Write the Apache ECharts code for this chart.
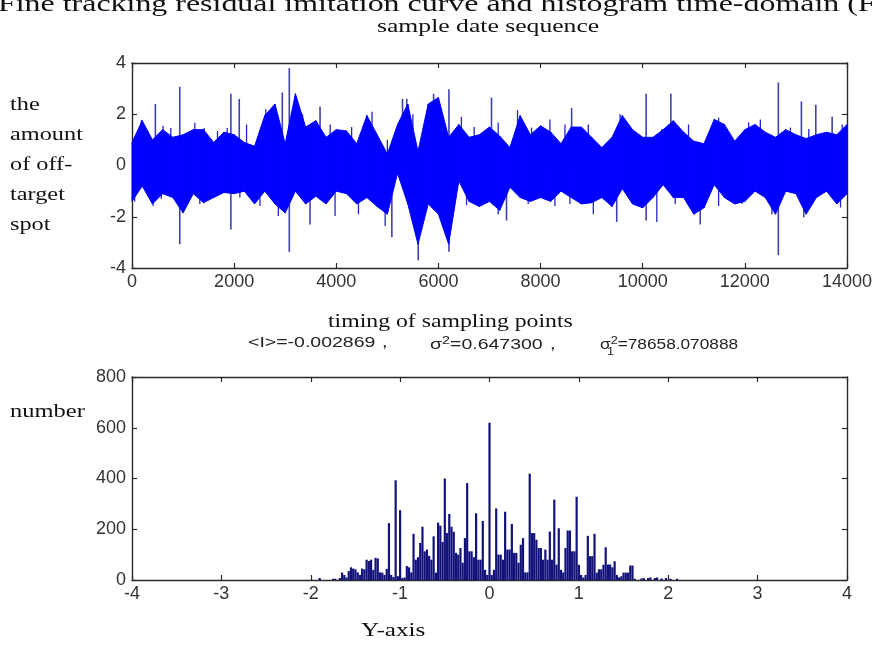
<!DOCTYPE html>
<html>
<head>
<meta charset="utf-8">
<script src="https://cdn.jsdelivr.net/npm/echarts@6/dist/echarts.min.js"></script>
<style>
  html, body { margin: 0; padding: 0; background: #fff; }
  #chart { width: 876px; height: 649px; }
</style>
</head>
<body>
<div id="chart"></div>
<script>
// envelope of the residual signal, read every 200 samples
var envStep = 200;
var envUpper = [
  0.9, 1.75, 1.0, 1.4, 1.1, 1.2, 1.4, 1.4, 0.9, 1.3,
  1.2, 0.9, 0.75, 1.95, 2.4, 0.85, 2.8, 1.5, 1.75, 1.1,
  1.4, 1.35, 0.85, 1.95, 1.2, 0.45, 1.6, 2.4, 0.55, 2.4,
  2.65, 1.1, 1.6, 1.1, 1.2, 1.5, 1.15, 0.7, 1.95, 1.2,
  1.55, 1.3, 0.85, 1.5, 1.5, 1.1, 0.7, 1.1, 1.95, 1.4,
  1.1, 1.1, 1.4, 1.75, 1.3, 0.95, 0.85, 1.8, 1.6, 0.95,
  1.4, 1.6, 1.3, 1.1, 1.4, 1.2, 1.05, 1.2, 1.3, 1.2,
  1.6
];
var envLower = [
  -1.4, -0.8, -1.5, -1.1, -1.25, -1.85, -1.1, -1.45, -1.25, -1.05,
  -1.1, -1.0, -1.5, -1.0, -1.5, -1.85, -1.0, -1.5, -1.2, -1.5,
  -1.0, -1.1, -1.5, -1.25, -1.6, -1.9, -0.3, -1.5, -3.07, -1.5,
  -1.9, -3.07, -0.6, -1.4, -1.6, -1.4, -1.75, -0.85, -1.25, -1.4,
  -1.25, -1.4, -1.0, -1.25, -1.5, -1.45, -1.25, -1.6, -0.9, -1.5,
  -1.65, -1.25, -0.75, -1.25, -1.25, -1.9, -1.65, -0.75, -1.25, -1.5,
  -1.4, -1.0, -1.25, -1.9, -1.0, -1.1, -1.9, -1.25, -1.0, -1.5,
  -1.1
];
// isolated spikes: [sample, top, bottom]
var spikes = [
  [458, 2.4, 0], [935, 3.07, -3.07], [1936, 2.8, -2.5], [2100, 2.6, 0],
  [2943, 2.85, 0], [3080, 3.8, -3.37], [3486, 0, -2.3], [3682, 2.3, 0],
  [5088, 0, -2.8], [5297, 2.6, 0], [5380, 2.6, 0], [5605, 0, -3.7],
  [5905, 2.8, 0], [6206, 2.98, -3.37], [7039, 2.65, 0], [7333, 0, -2.15],
  [8608, 2.24, 0], [9491, 0, -2.2], [10067, 2.8, -2.15], [10551, 2.8, 0],
  [11126, 0, -2.3], [12656, 3.24, -3.5], [13107, 2.5, 0], [13389, 2.37, 0],
  [13709, 1.9, 0]
];
// small excursions just outside the band: [sample, value]
var whiskers = [
  [183, 1.77], [608, 1.55], [760, 1.46], [1230, 1.67], [1413, 1.46], [1674, 1.35],
  [1864, 1.46], [2243, 1.6], [2620, 2.2], [3340, 2.0], [3880, 1.6], [4300, 1.5],
  [4700, 2.1], [5000, 1.0], [5500, 2.0], [6450, 1.9], [6700, 1.5],
  [52, -1.4], [412, -1.58], [575, -1.3], [1328, -1.5], [1753, -1.12], [2112, -1.25],
  [2505, -1.58], [2865, -1.97], [3976, -1.97], [4434, -1.9], [4957, -2.36], [6550, -1.55],
  [7170, 1.68], [7549, 2.16], [7823, 1.48], [8183, 1.8], [8477, 1.6], [8935, 1.6],
  [9557, 2.0], [10374, 1.42], [10897, 1.6], [11486, 1.87], [12074, 1.68], [12303, 1.8],
  [12892, 1.48], [13252, 1.42], [13906, 1.6],
  [7170, -1.9], [7758, -1.5], [8281, -1.58], [8575, -1.5], [9033, -1.9], [10276, -2.2],
  [10636, -1.5], [11486, -1.58], [11944, -1.5], [12530, -1.9], [13154, -2.03], [13873, -1.64]
];

// histogram, bins of 0.025 starting at -1.95
var histStart = -1.95;
var histWidth = 0.025;
var histCounts = [
  0, 0, 8, 0, 0, 0, 0, 0, 5, 5,
  0, 8, 29, 20, 10, 35, 50, 45, 42, 30,
  20, 45, 42, 80, 75, 80, 40, 87, 85, 30,
  29, 20, 44, 224, 20, 12, 393, 15, 275, 8,
  10, 55, 50, 30, 182, 80, 90, 146, 210, 113,
  120, 95, 80, 172, 29, 226, 214, 150, 400, 185,
  260, 210, 190, 107, 100, 126, 68, 165, 382, 113,
  113, 90, 263, 80, 80, 233, 40, 20, 620, 20,
  40, 282, 100, 100, 80, 269, 120, 120, 221, 107,
  107, 68, 139, 165, 30, 30, 419, 185, 185, 159,
  126, 126, 80, 120, 80, 191, 80, 317, 60, 204,
  40, 30, 126, 195, 195, 113, 113, 328, 60, 20,
  10, 20, 174, 94, 94, 182, 29, 42, 42, 60,
  129, 61, 61, 50, 74, 20, 10, 15, 29, 29,
  29, 57, 57, 5, 0, 0, 6, 8, 0, 8,
  10, 0, 8, 10, 0, 6, 0, 8, 0, 5,
  0, 0, 5
];

var topXTicks = [0, 14000, 2000];
var topYTicks = [-4, 4, 2];
var botXTicks = [-4, 4, 1];
var botYTicks = [0, 800, 200];

var histData = histCounts.map(function (c, i) {
  return [histStart + i * histWidth, c];
});
var envIdx = envUpper.slice(1).map(function (v, i) { return [i * envStep, envUpper[i]]; });

var axisColor = '#2a2a2a';
var tickFont = { color: '#333', fontSize: 18, fontFamily: 'Liberation Sans',
  formatter: function (v) { return String(v); } };

function boxAxes(grid, xr, yr) {
  var base = {
    gridIndex: grid, type: 'value', splitLine: { show: false },
    axisLine: { show: true, onZero: false, lineStyle: { color: axisColor, width: 1.4 } },
    axisTick: { inside: true, length: 5, lineStyle: { color: axisColor, width: 1.2 } }
  };
  return {
    x: [
      Object.assign({}, base, { position: 'bottom', min: xr[0], max: xr[1], interval: xr[2],
        axisLabel: Object.assign({ margin: 5 }, tickFont) }),
      Object.assign({}, base, { position: 'top', min: xr[0], max: xr[1], interval: xr[2],
        axisLabel: { show: false } })
    ],
    y: [
      Object.assign({}, base, { position: 'left', min: yr[0], max: yr[1], interval: yr[2],
        axisLabel: Object.assign({ margin: 6 }, tickFont) }),
      Object.assign({}, base, { position: 'right', min: yr[0], max: yr[1], interval: yr[2],
        axisLabel: { show: false } })
    ]
  };
}

var a1 = boxAxes(0, topXTicks, topYTicks);
var a2 = boxAxes(1, botXTicks, botYTicks);

var chart = echarts.init(document.getElementById('chart'), null, { renderer: 'canvas' });

function label(txt, x, y, size, sx, extra, family) {
  return {
    type: 'text', x: x, y: y, scaleX: sx,
    style: Object.assign({ text: txt, x: 0, y: 0, font: size + 'px "' + (family || 'Liberation Serif') + '"',
      fill: '#111', textVerticalAlign: 'top' }, extra || {})
  };
}

function statText(x, sx, parts) {
  return {
    type: 'text', x: x, y: 335, scaleX: sx,
    style: {
      x: 0, y: 0, textVerticalAlign: 'top',
      rich: {
        n: { fontFamily: 'Liberation Sans', fontSize: 15, fill: '#222' },
        s: { fontFamily: 'Liberation Sans', fontSize: 11, fill: '#222', padding: [0, 0, 9, 0] }
      },
      text: parts
    }
  };
}

var option = {
  animation: false,
  backgroundColor: '#fff',
  grid: [
    { left: 132, right: 29, top: 63, height: 205 },
    { left: 132, right: 29, top: 377, height: 203 }
  ],
  xAxis: a1.x.concat(a2.x),
  yAxis: a1.y.concat(a2.y),
  graphic: [
    label('Fine tracking residual imitation curve and histogram time-domain (F', -2, -7, 24, 1.33),
    label('sample date sequence', 377, 18, 19, 1.35),
    label('timing of sampling points', 328, 313, 19, 1.25),
    statText(248, 1.3, '{n|<I>=-0.002869，}'),
    statText(430, 1.3, '{n|σ}{s|2}{n|=0.647300，}'),
    statText(600, 1.15, '{n|σ}{s|2}{n|=78658.070888}'),
    label('1', 607, 346, 11, 1.15, { fill: '#222' }, 'Liberation Sans'),
    label('the\namount\nof off-\ntarget\nspot', 10, 90, 18, 1.35, { lineHeight: 30 }),
    label('number', 10, 403, 18, 1.36),
    label('Y-axis', 361, 622, 18, 1.4)
  ],
  series: [
    {
      type: 'custom', xAxisIndex: 0, yAxisIndex: 0, data: envIdx,
      renderItem: function (params, api) {
        var i = params.dataIndex;
        var x0 = i * envStep, x1 = (i + 1) * envStep;
        var pts = [
          api.coord([x0, envUpper[i]]), api.coord([x1, envUpper[i + 1]]),
          api.coord([x1, envLower[i + 1]]), api.coord([x0, envLower[i]])
        ];
        return { type: 'polygon', shape: { points: pts }, style: { fill: '#0000ff', stroke: '#0000ff', lineWidth: 1 } };
      },
      z: 3
    },
    {
      type: 'custom', xAxisIndex: 0, yAxisIndex: 0, data: whiskers,
      renderItem: function (params, api) {
        var p0 = api.coord([api.value(0), 0]);
        var p1 = api.coord([api.value(0), api.value(1)]);
        return { type: 'line', shape: { x1: p0[0], y1: p0[1], x2: p1[0], y2: p1[1] }, style: { stroke: '#2424d0', lineWidth: 1.3 } };
      },
      z: 2
    },
    {
      type: 'custom', xAxisIndex: 0, yAxisIndex: 0, data: spikes,
      renderItem: function (params, api) {
        var p0 = api.coord([api.value(0), api.value(1)]);
        var p1 = api.coord([api.value(0), api.value(2)]);
        return { type: 'line', shape: { x1: p0[0], y1: p0[1], x2: p1[0], y2: p1[1] }, style: { stroke: '#4040b0', lineWidth: 1.6 } };
      },
      z: 2
    },
    {
      type: 'bar', xAxisIndex: 2, yAxisIndex: 2, data: histData,
      barWidth: 2.2, itemStyle: { color: '#12127a' }
    }
  ]
};
chart.setOption(option);
</script>
</body>
</html>
